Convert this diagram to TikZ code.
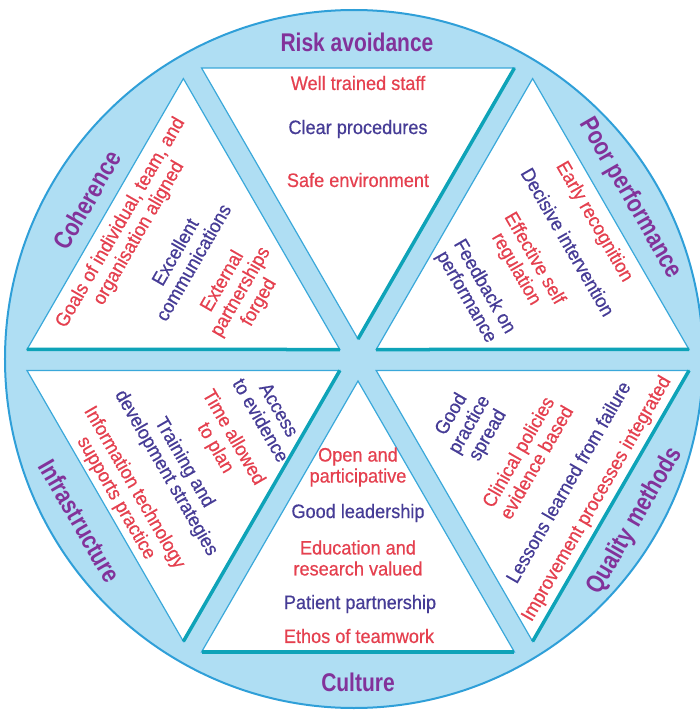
\documentclass[tikz,border=0pt]{standalone}
\usepackage{fontspec}
\setmainfont{Liberation Sans}[FakeStretch=0.93,FakeBold=0.5]
\newfontfamily\headfont{Liberation Sans}[FakeStretch=0.82]
\definecolor{ringfill}{HTML}{AFDEF3}
\definecolor{ringline}{HTML}{2F9FD8}
\definecolor{edgeblue}{HTML}{3AA8DA}
\definecolor{edgeteal}{HTML}{0EA3B8}
\definecolor{headpurple}{HTML}{82329A}
\definecolor{txtred}{HTML}{E5404F}
\definecolor{txtblue}{HTML}{463C96}

\begin{document}
\begin{tikzpicture}[x=1pt,y=1pt,
  head/.style={font=\headfont\bfseries\fontsize{25.6}{28}\selectfont,text=headpurple},
  redtxt/.style={font=\fontsize{19.5}{21}\selectfont,text=txtred,align=center},
  bluetxt/.style={font=\fontsize{19.5}{21}\selectfont,text=txtblue,align=center},
  tri/.style={fill=white,draw=edgeblue,line width=1.2pt},
  edgeline/.style={draw=edgeteal,line width=3.5pt}]
\useasboundingbox (-358,-353) rectangle (342,360);

\node[circle,minimum size=698pt,fill=ringfill,draw=ringline,line width=2pt] (ring) at (-4,1) {};

% corners of the six triangles
\coordinate (PP1) at (30:21);
\coordinate (PP2) at (1.82:331.2);
\coordinate (PP3) at (58.18:331.2);
\coordinate (RA1) at (90:21);
\coordinate (RA2) at (61.82:331.2);
\coordinate (RA3) at (118.18:331.2);
\coordinate (CO1) at (150:21);
\coordinate (CO2) at (121.82:331.2);
\coordinate (CO3) at (178.18:331.2);
\coordinate (IN1) at (210:21);
\coordinate (IN2) at (181.82:331.2);
\coordinate (IN3) at (238.18:331.2);
\coordinate (CU1) at (270:21);
\coordinate (CU2) at (241.82:331.2);
\coordinate (CU3) at (298.18:331.2);
\coordinate (QM1) at (330:21);
\coordinate (QM2) at (301.82:331.2);
\coordinate (QM3) at (358.18:331.2);

\draw[tri] (PP1) -- (PP2) -- (PP3) -- cycle;
\draw[tri] (RA1) -- (RA2) -- (RA3) -- cycle;
\draw[tri] (CO1) -- (CO2) -- (CO3) -- cycle;
\draw[tri] (IN1) -- (IN2) -- (IN3) -- cycle;
\draw[tri] (CU1) -- (CU2) -- (CU3) -- cycle;
\draw[tri] (QM1) -- (QM2) -- (QM3) -- cycle;

\draw[edgeline] (PP1) -- (PP2);
\draw[edgeline] (RA2) -- (RA1);
\draw[edgeline] (CO3) -- (CO1);
\draw[edgeline] (IN1) -- (IN3);
\draw[edgeline] (CU2) -- (CU3);
\draw[edgeline] (QM3) -- (QM2);

% headings
\node[head] (risk) at (-1,318) {Risk avoidance};
\node[head] (culture) at (0,-322) {Culture};
\node[head,rotate=60] (coherence) at (-271,160) {Coherence};
\node[head,rotate=-60] (poor) at (272,162) {Poor performance};
\node[head,rotate=-60] (infra) at (-278,-161) {Infrastructure};
\node[head,rotate=60] (quality) at (277,-161) {Quality methods};

% risk avoidance
\node[redtxt] (ra1) at (0,277) {Well trained staff};
\node[bluetxt] (ra2) at (0,231) {Clear procedures};
\node[redtxt] (ra3) at (0,180) {Safe environment};

% culture
\node[redtxt] (cu1) at (0,-107) {Open and\\participative};
\node[bluetxt] (cu2) at (0,-153) {Good leadership};
\node[redtxt] (cu3) at (0,-198) {Education and\\research valued};
\node[bluetxt] (cu4) at (2,-244) {Patient partnership};
\node[redtxt] (cu5) at (1,-276) {Ethos of teamwork};

% coherence
\node[redtxt,rotate=60] (co1) at (-228,132) {Goals of individual, team, and\\organisation aligned};
\node[bluetxt,rotate=60] (co2) at (-174,103) {Excellent\\communications};
\node[redtxt,rotate=60] (co3) at (-117,68) {External\\partnerships\\forged};

% poor performance
\node[redtxt,rotate=-60] (pp1) at (236,138) {Early recognition};
\node[bluetxt,rotate=-60] (pp2) at (210,118) {Decisive intervention};
\node[redtxt,rotate=-60] (pp3) at (167,96) {Effective self\\regulation};
\node[bluetxt,rotate=-60] (pp4) at (117,68) {Feedback on\\performance};

% infrastructure
\node[bluetxt,rotate=-60] (in1) at (-88,-55) {Access\\to evidence};
\node[redtxt,rotate=-60] (in2) at (-134,-83) {Time allowed\\to plan};
\node[bluetxt,rotate=-60] (in3) at (-183,-108) {Training and\\development strategies};
\node[redtxt,rotate=-60] (in4) at (-233,-133) {Information technology\\supports practice};

% quality methods
\node[bluetxt,rotate=60] (qm1) at (112,-65) {Good\\practice\\spread};
\node[redtxt,rotate=60] (qm2) at (169,-97) {Clinical policies\\evidence based};
\node[bluetxt,rotate=60] (qm3) at (210,-122) {Lessons learned from failure};
\node[redtxt,rotate=60] (qm4) at (239,-139) {Improvement processes integrated};
\end{tikzpicture}
\end{document}
